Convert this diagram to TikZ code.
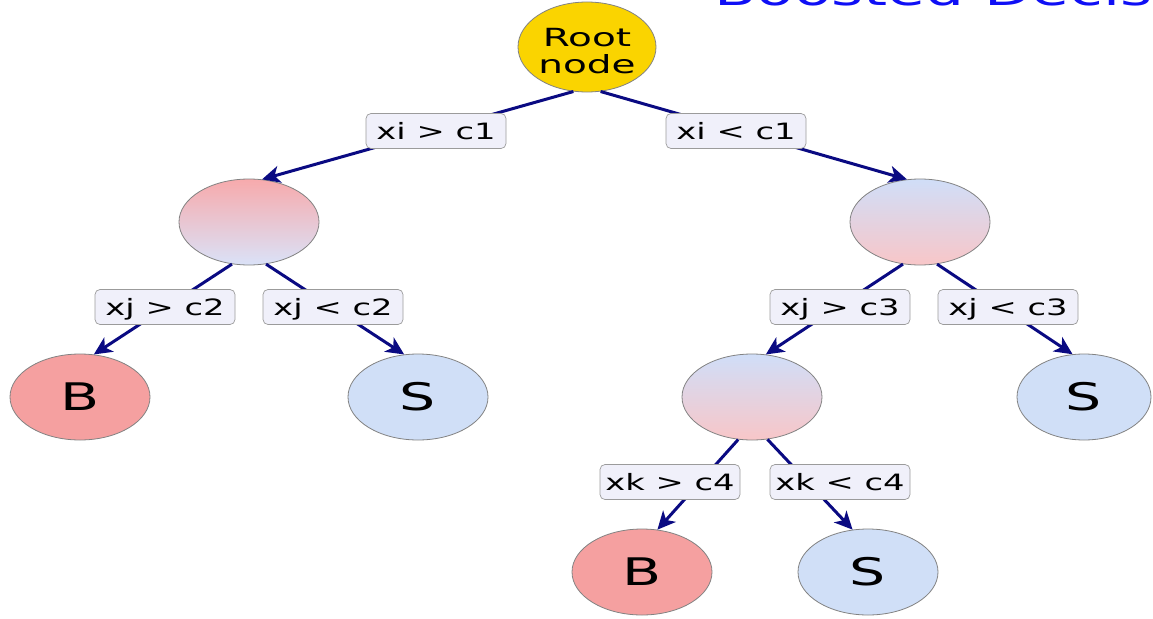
\documentclass[tikz,border=0pt]{standalone}
\usepackage{fontspec}
\setmainfont{DejaVu Sans}
\newfontfamily\widesans[FakeStretch=1.5]{DejaVu Sans}
\newfontfamily\widersans[FakeStretch=1.56]{DejaVu Sans}
\usetikzlibrary{shapes.geometric,arrows.meta}

\definecolor{rootgold}{RGB}{250,212,0}
\definecolor{edgenavy}{RGB}{10,10,130}
\definecolor{sigblue}{RGB}{208,223,247}
\definecolor{bkgred}{RGB}{245,160,160}
\definecolor{mixred}{RGB}{247,170,172}
\definecolor{mixblue}{RGB}{218,226,248}
\definecolor{mixredlow}{RGB}{248,198,200}
\definecolor{mixbluetop}{RGB}{208,222,248}
\definecolor{lblfill}{RGB}{240,240,250}
\definecolor{rimgray}{RGB}{130,130,130}
\definecolor{titleblue}{RGB}{15,15,245}

\tikzset{
  treenode/.style={ellipse, draw=rimgray, line width=0.8pt,
    minimum width=140pt, minimum height=86pt, inner sep=0pt},
  leafnode/.style={treenode, font=\widesans\fontsize{38}{38}\selectfont,
    text height=27.5pt, text depth=0pt},
  bleaf/.style={leafnode, fill=bkgred},
  sleaf/.style={leafnode, fill=sigblue},
  mixdown/.style={treenode, top color=mixred, bottom color=mixblue},
  mixup/.style={treenode, top color=mixbluetop, bottom color=mixredlow},
  rootnode/.style={treenode, fill=rootgold, minimum width=138pt,
    minimum height=90pt, align=center,
    font=\widersans\fontsize{25}{27}\selectfont},
  cutlabel/.style={draw=rimgray!80, fill=lblfill, line width=0.7pt,
    rounded corners=5pt, minimum width=140pt, minimum height=35pt,
    inner sep=2pt, font=\widesans\fontsize{22.5}{22.5}\selectfont,
    text height=16pt, text depth=0pt},
  edge/.style={draw=edgenavy, line width=3pt,
    -{Stealth[length=18pt,width=17pt,inset=5pt]}}
}

\begin{document}
\begin{tikzpicture}[x=1pt,y=-1pt]
\useasboundingbox (0,0) rectangle (1153,618);

% heading, running off the top edge
\begin{scope}
  \clip (0,0) rectangle (1153,618);
  \node[anchor=base west, inner sep=0pt, text=titleblue,
        font=\widesans\fontsize{41}{41}\selectfont] (title) at (714,6)
        {Boosted Decision Trees};
\end{scope}

% tree nodes
\node[rootnode] (root) at (587,47) {\rule{0pt}{26pt}Root\\node};
\node[mixdown] (n1) at (249,222) {};
\node[mixup]   (n2) at (920,222) {};
\node[mixup]   (n3) at (752,397) {};
\node[bleaf] (b1) at (80,397) {B};
\node[sleaf] (s1) at (418,397) {S};
\node[sleaf, minimum width=134pt] (s2) at (1084,397) {S};
\node[bleaf] (b2) at (642,572) {B};
\node[sleaf] (s3) at (868,572) {S};

% branches
\draw[edge] (root.253) -- (n1.73);
\draw[edge] (root.287) -- (n2.107);
\draw[edge] (n1.248) -- (b1.72);
\draw[edge] (n1.292) -- (s1.108);
\draw[edge] (n2.248) -- (n3.72);
\draw[edge] (n2.292) -- (s2.105);
\draw[edge] (n3.252) -- (b2.70);
\draw[edge] (n3.290) -- (s3.110);

% cut labels
\node[cutlabel] (c1a) at (436,131) {xi > c1};
\node[cutlabel] (c1b) at (736,131) {xi < c1};
\node[cutlabel] (c2a) at (165,307) {xj > c2};
\node[cutlabel] (c2b) at (333,307) {xj < c2};
\node[cutlabel] (c3a) at (840,307) {xj > c3};
\node[cutlabel] (c3b) at (1008,307) {xj < c3};
\node[cutlabel] (c4a) at (670,482) {xk > c4};
\node[cutlabel] (c4b) at (840,482) {xk < c4};
\end{tikzpicture}
\end{document}
